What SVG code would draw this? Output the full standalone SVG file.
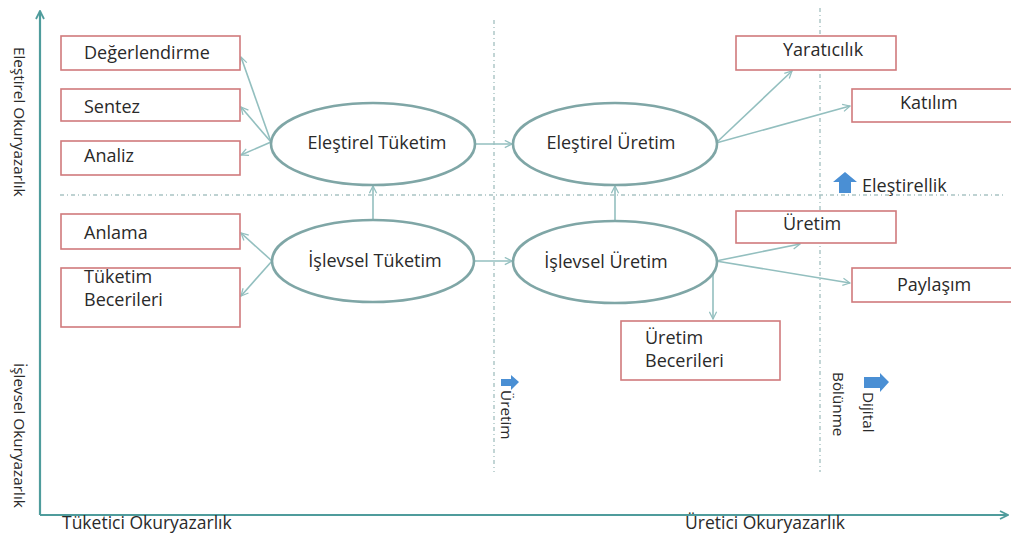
<svg xmlns="http://www.w3.org/2000/svg" width="1011" height="534" viewBox="0 0 1011 534">
<defs>
<style>
text{font-family:"Open Sans","Noto Sans","Liberation Sans",sans-serif;font-size:18px;fill:#2a2a2a}
.ax{font-size:17.5px}
.sm{font-size:15.3px}
.box{fill:#fff;stroke:#d07a7c;stroke-width:1.6}
.ell{fill:#fff;stroke:#7fa6a6;stroke-width:2.6}
.con{stroke:#93bfbf;stroke-width:1.6;fill:none;marker-end:url(#ah)}
.axis{stroke:#4f9c9c;stroke-width:2.2;fill:none}
.dash{stroke:#a9c4c4;stroke-width:1.4;stroke-dasharray:4 3 1 3;fill:none}
.blue{fill:#4a8fd4}
</style>
<marker id="ah" viewBox="0 0 10 10" refX="9" refY="5" markerWidth="9" markerHeight="9" markerUnits="userSpaceOnUse" orient="auto">
<path d="M1,1 L9,5 L1,9" fill="none" stroke="#93bfbf" stroke-width="1.4"/>
</marker>
<marker id="axh" viewBox="0 0 10 10" refX="9" refY="5" markerWidth="10" markerHeight="10" markerUnits="userSpaceOnUse" orient="auto">
<path d="M1,1 L9,5 L1,9" fill="none" stroke="#4f9c9c" stroke-width="1.8"/>
</marker>
</defs>
<rect width="1011" height="534" fill="#fff"/>

<g id="grid">
<line class="dash" x1="60" y1="195" x2="1005" y2="195"/>
<line class="dash" x1="494" y1="20" x2="494" y2="472"/>
<line class="dash" x1="820" y1="8" x2="820" y2="472"/>
</g>

<g id="axes">
<line class="axis" x1="40" y1="515" x2="40" y2="11" marker-end="url(#axh)"/>
<line class="axis" x1="40" y1="515" x2="1008" y2="515" marker-end="url(#axh)"/>
<text class="sm" transform="translate(14,47) rotate(90)">Eleştirel Okuryazarlık</text>
<text class="sm" transform="translate(14,363) rotate(90)">İşlevsel Okuryazarlık</text>
<text class="ax" x="62" y="529">Tüketici Okuryazarlık</text>
<text class="ax" x="685" y="529">Üretici Okuryazarlık</text>
</g>

<g id="connectors">
<line class="con" x1="271" y1="142" x2="241" y2="57"/>
<line class="con" x1="271" y1="142" x2="241" y2="107"/>
<line class="con" x1="271" y1="142" x2="241" y2="155"/>
<line class="con" x1="272" y1="261" x2="241" y2="233"/>
<line class="con" x1="272" y1="261" x2="241" y2="296"/>
<line class="con" x1="475" y1="144" x2="512" y2="144"/>
<line class="con" x1="475" y1="261" x2="512" y2="261"/>
<line class="con" x1="373" y1="220" x2="373" y2="186"/>
<line class="con" x1="615" y1="221" x2="615" y2="186"/>
<line class="con" x1="716" y1="143" x2="792" y2="71"/>
<line class="con" x1="716" y1="143" x2="850" y2="106"/>
<line class="con" x1="716" y1="261" x2="800" y2="244"/>
<line class="con" x1="716" y1="261" x2="850" y2="283"/>
<line class="con" x1="713" y1="262" x2="713" y2="319"/>
</g>

<g id="n-degerlendirme"><rect class="box" x="61" y="36" width="179" height="34"/><text x="84" y="59">Değerlendirme</text></g>
<g id="n-sentez"><rect class="box" x="61" y="89" width="179" height="32"/><text x="84" y="113">Sentez</text></g>
<g id="n-analiz"><rect class="box" x="61" y="141" width="179" height="34"/><text x="84" y="162">Analiz</text></g>
<g id="n-anlama"><rect class="box" x="61" y="214" width="179" height="35"/><text x="84" y="239">Anlama</text></g>
<g id="n-tuketim-becerileri"><rect class="box" x="61" y="268" width="179" height="59"/><text x="84" y="283">Tüketim</text><text x="84" y="306">Becerileri</text></g>

<g id="n-elestirel-tuketim"><ellipse class="ell" cx="373" cy="144" rx="102" ry="41"/><text x="377" y="149" text-anchor="middle">Eleştirel Tüketim</text></g>
<g id="n-elestirel-uretim"><ellipse class="ell" cx="615" cy="144" rx="102" ry="41"/><text x="611" y="149" text-anchor="middle">Eleştirel Üretim</text></g>
<g id="n-islevsel-tuketim"><ellipse class="ell" cx="373" cy="261" rx="101" ry="41"/><text x="375" y="267" text-anchor="middle">İşlevsel Tüketim</text></g>
<g id="n-islevsel-uretim"><ellipse class="ell" cx="615" cy="262" rx="102" ry="41"/><text x="606" y="268" text-anchor="middle">İşlevsel Üretim</text></g>

<g id="n-yaraticilik"><rect class="box" x="736" y="36" width="160" height="34"/><text x="783" y="56">Yaratıcılık</text></g>
<g id="n-katilim"><rect class="box" x="852" y="89" width="162" height="33"/><text x="900" y="109">Katılım</text></g>
<g id="n-uretim"><rect class="box" x="736" y="211" width="160" height="32"/><text x="783" y="230">Üretim</text></g>
<g id="n-paylasim"><rect class="box" x="852" y="268" width="162" height="34"/><text x="897" y="291">Paylaşım</text></g>
<g id="n-uretim-becerileri"><rect class="box" x="621" y="321" width="159" height="59"/><text x="645" y="344">Üretim</text><text x="645" y="367">Becerileri</text></g>

<g id="lbl-elestirellik">
<path class="blue" d="M845,172 L857,182 L851,182 L851,193 L839,193 L839,182 L833,182 Z"/>
<text x="862" y="192">Eleştirellik</text>
</g>
<g id="lbl-uretim">
<path class="blue" d="M519,382 L511,375 L511,379 L501,379 L501,386 L511,386 L511,390 Z"/>
<text class="sm" transform="translate(501,390) rotate(90)">Üretim</text>
</g>
<g id="lbl-dijital">
<path class="blue" d="M889,382 L880,373 L880,377 L864,377 L864,388 L880,388 L880,392 Z"/>
<text class="sm" transform="translate(863,392) rotate(90)">Dijital</text>
<text class="sm" transform="translate(833,372) rotate(90)">Bölünme</text>
</g>
</svg>
